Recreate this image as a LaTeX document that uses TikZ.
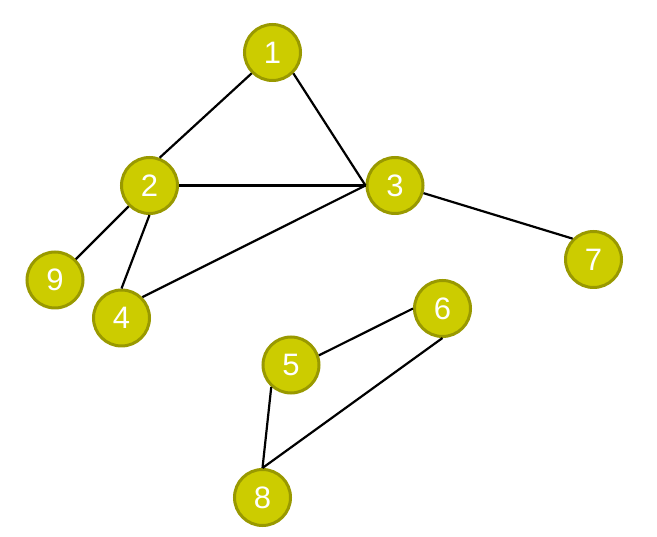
\documentclass[tikz,border=0pt]{standalone}
\usepackage{fontspec}
\setsansfont{Liberation Sans}
\definecolor{nodefill}{HTML}{CCCC00}
\definecolor{nodeline}{HTML}{999900}
\begin{document}
\begin{tikzpicture}[x=1pt,y=-1pt,
  vertex/.style={circle,draw=nodeline,fill=nodefill,line width=3pt,minimum size=56pt,inner sep=0pt,
    text=white,font=\sffamily\fontsize{31}{33}\selectfont},
  edge/.style={line width=2.2pt,black}]
\useasboundingbox (0,0) rectangle (657,537);
\node[vertex] (n1) at (272.5,52.5) {1};
\node[vertex] (n2) at (149.5,185.5) {2};
\node[vertex] (n3) at (395,185.5) {3};
\node[vertex] (n4) at (121.5,318) {4};
\node[vertex] (n5) at (291,365) {5};
\node[vertex] (n6) at (442.5,308.5) {6};
\node[vertex] (n7) at (593.5,259.5) {7};
\node[vertex] (n8) at (262.5,497.5) {8};
\node[vertex] (n9) at (55,280) {9};
\draw[edge] (n1.225) -- (n2.70);
\draw[edge] (n1.-45) -- (n3.180);
\draw[edge] (n2.0) -- (n3.180);
\draw[edge] (n2.225) -- (n9.45);
\draw[edge] (n2.270) -- (n4.90);
\draw[edge] (n4.45) -- (n3.180);
\draw[edge] (n3.-15) -- (n7.135);
\draw[edge] (n5.19) -- (n6.180);
\draw[edge] (n5.228) -- (n8.90);
\draw[edge] (n6.270) -- (n8.90);
\end{tikzpicture}
\end{document}
